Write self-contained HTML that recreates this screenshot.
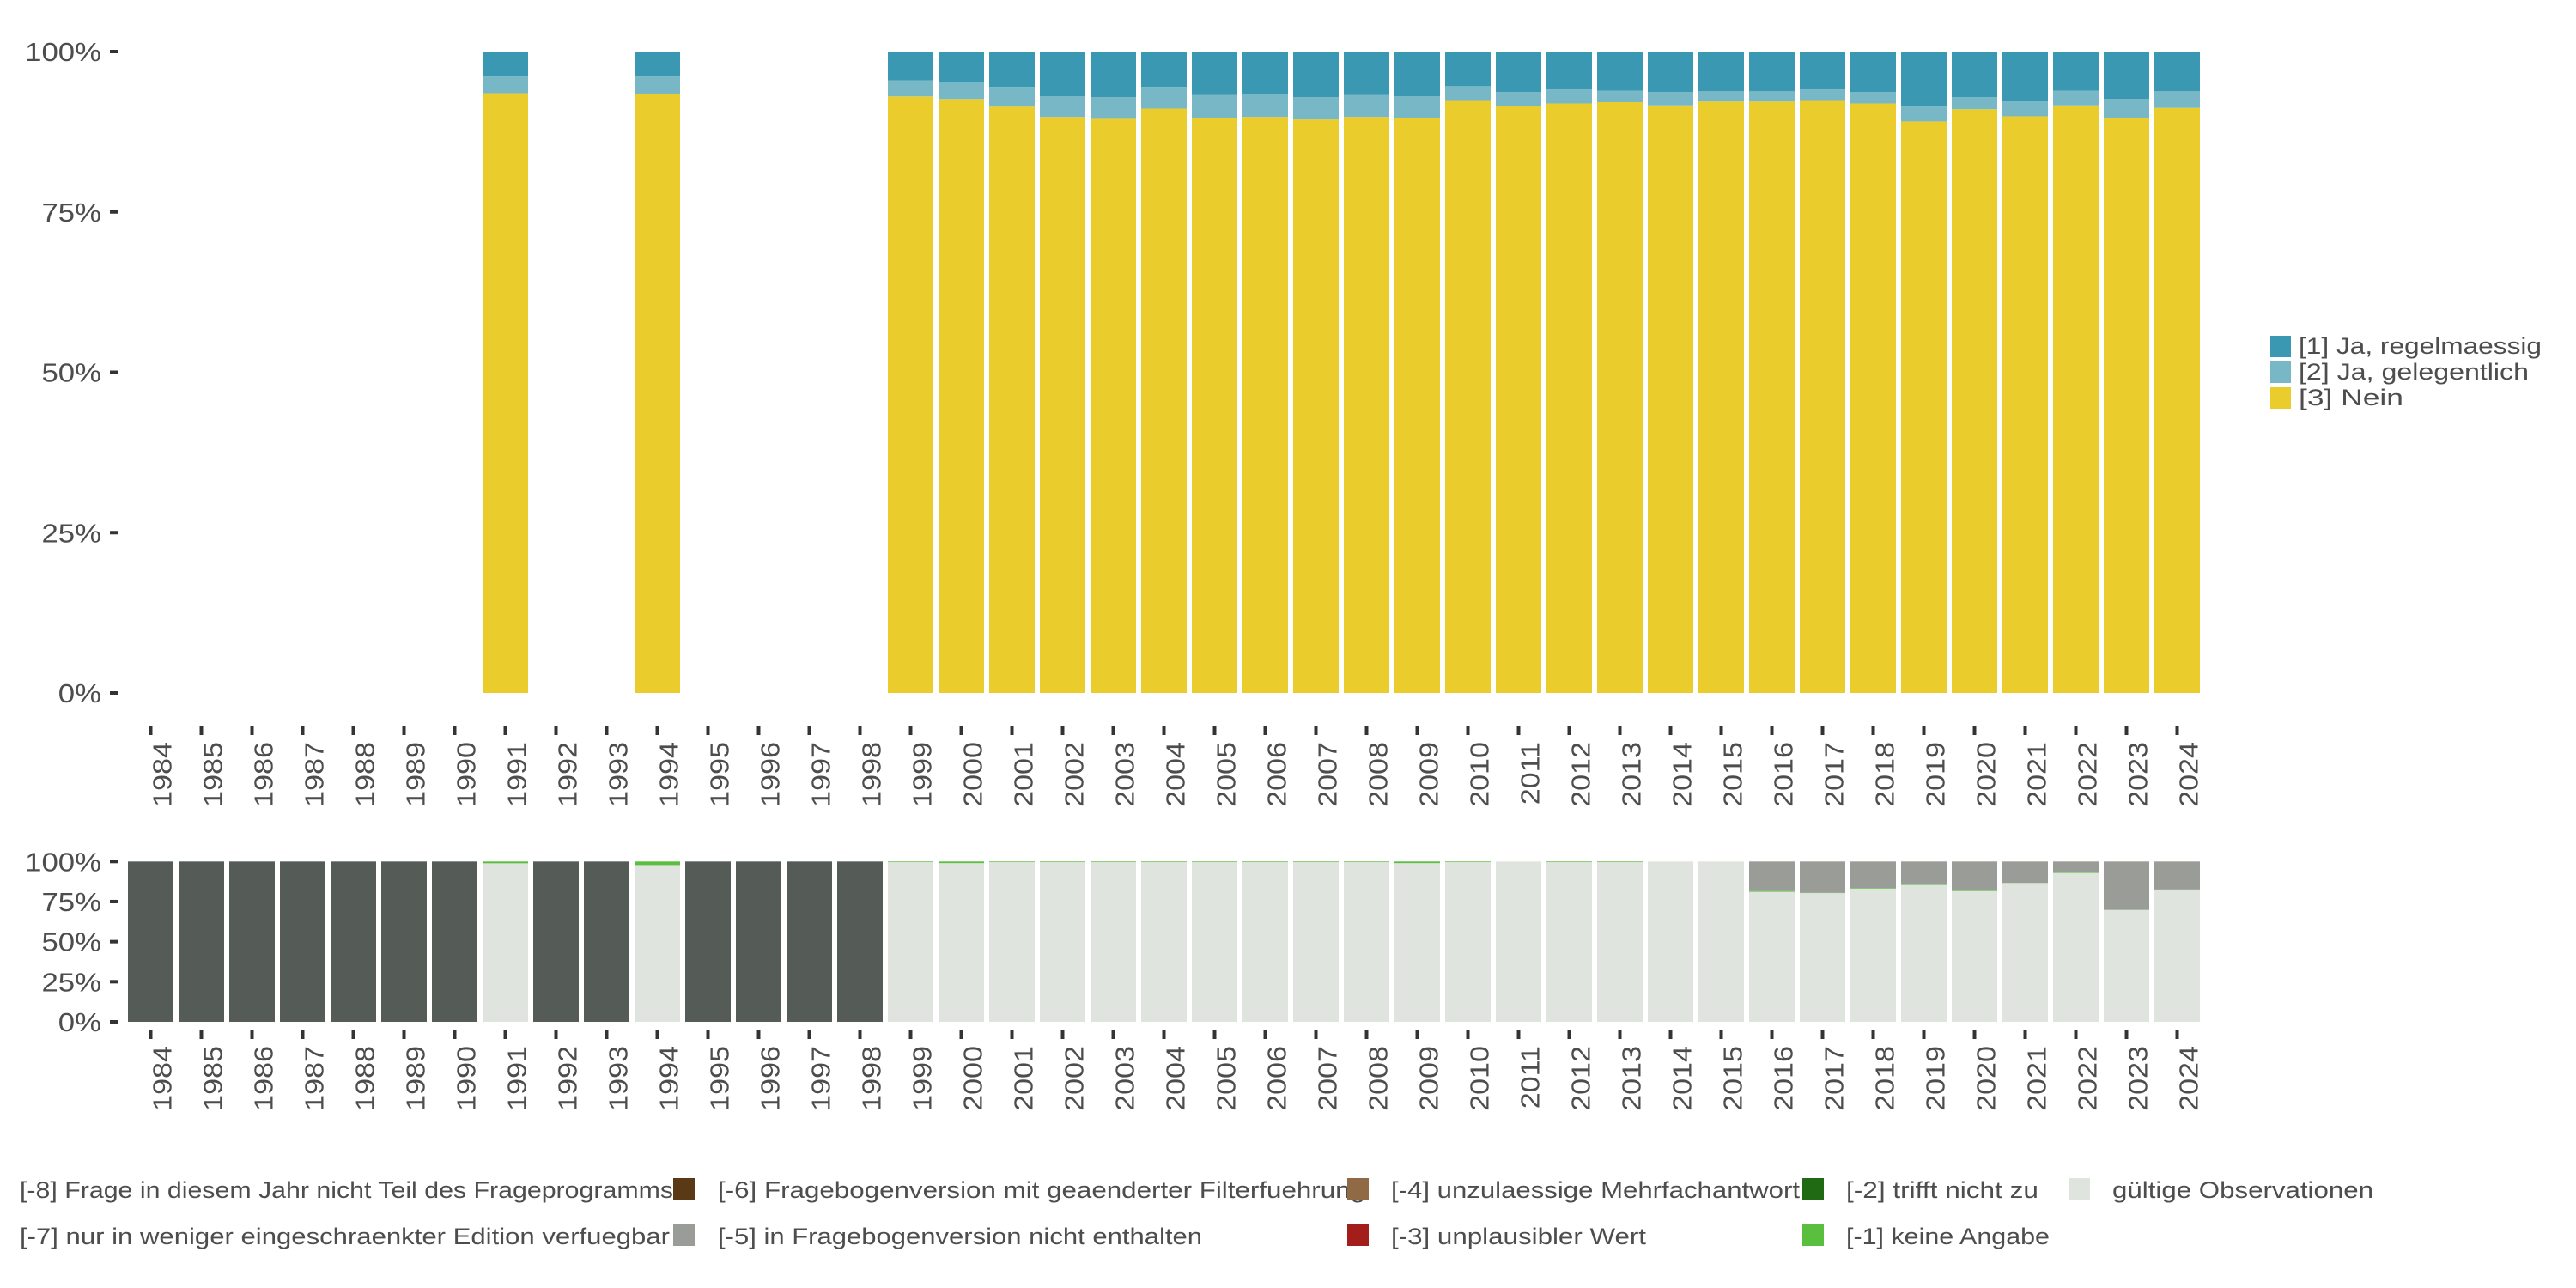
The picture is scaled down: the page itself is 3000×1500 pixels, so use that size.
<!DOCTYPE html>
<html><head><meta charset="utf-8"><style>
html,body{margin:0;padding:0;background:#fff;}
svg{display:block;}
text{font-family:"Liberation Sans",sans-serif;fill:#4d4d4d;}
</style></head><body>
<svg id="chart" width="3000" height="1500" viewBox="0 0 3000 1500" xmlns="http://www.w3.org/2000/svg">
<g id="top"></g>
<g id="bot"></g>
<g id="leg"></g>
</svg>
<script>
const years = [1984,1985,1986,1987,1988,1989,1990,1991,1992,1993,1994,1995,1996,1997,1998,1999,2000,2001,2002,2003,2004,2005,2006,2007,2008,2009,2010,2011,2012,2013,2014,2015,2016,2017,2018,2019,2020,2021,2022,2023,2024];
const nein = [null,null,null,null,null,null,null,0.935,null,null,0.934,null,null,null,null,0.930,0.926,0.914,0.898,0.895,0.911,0.896,0.898,0.894,0.898,0.896,0.923,0.915,0.919,0.921,0.916,0.922,0.922,0.923,0.919,0.891,0.910,0.899,0.916,0.896,0.912];
const jaGel = [null,null,null,null,null,null,null,0.026,null,null,0.027,null,null,null,null,0.025,0.026,0.031,0.032,0.034,0.034,0.036,0.036,0.035,0.034,0.034,0.023,0.022,0.022,0.018,0.021,0.016,0.016,0.018,0.018,0.023,0.019,0.023,0.023,0.030,0.026];
const jaRegel = [null,null,null,null,null,null,null,0.039,null,null,0.039,null,null,null,null,0.045,0.048,0.055,0.070,0.071,0.055,0.068,0.066,0.071,0.068,0.070,0.054,0.063,0.059,0.061,0.063,0.062,0.062,0.059,0.063,0.086,0.071,0.078,0.061,0.074,0.062];
const notInProgram = [1,1,1,1,1,1,1,0,1,1,0,1,1,1,1,0,0,0,0,0,0,0,0,0,0,0,0,0,0,0,0,0,0,0,0,0,0,0,0,0,0];
const notInVersion = [0,0,0,0,0,0,0,0,0,0,0,0,0,0,0,0,0,0,0,0,0,0,0,0,0,0,0,0,0,0,0,0,0.184,0.195,0.165,0.144,0.180,0.133,0.067,0.301,0.174];
const noAnswer = [0,0,0,0,0,0,0,0.011,0,0,0.022,0,0,0,0,0.004,0.010,0.004,0.004,0.004,0.004,0.004,0.004,0.004,0.004,0.010,0.004,0,0.004,0.004,0,0,0.005,0.002,0.004,0.003,0.004,0.001,0.004,0.001,0.005];
const pctTicks = [0,0.25,0.5,0.75,1];
const pctLabels = ["0%","25%","50%","75%","100%"];

const NS="http://www.w3.org/2000/svg";
function mk(parent,tag,attrs,txt){const e=document.createElementNS(NS,tag);for(const k in attrs)e.setAttribute(k,attrs[k]);if(txt!=null)e.textContent=txt;parent.appendChild(e);return e;}
function widen(t,f){const w=t.getComputedTextLength();t.setAttribute('textLength',(w*f).toFixed(1));t.setAttribute('lengthAdjust','spacingAndGlyphs');}
const step=59, x0=175.5, bw=53;
function xc(i){return x0+i*step;}

function panel(g, yTop, yBot, stacksFn, lblY){
  const ys=v=>yBot-(yBot-yTop)*v;
  pctTicks.forEach((t,k)=>{
    const tl=mk(g,'text',{x:118,y:ys(t)+11,'text-anchor':'end','font-size':31},pctLabels[k]);
    
    
    widen(tl,1.12);
    const tk=mk(g,'rect',{x:128,y:ys(t)-2,width:10,height:4,fill:'#333'});
    
    
  });
  years.forEach((yr,i)=>{
    let cum=0;
    stacksFn(i).forEach(s=>{
      if(!s.v) return;
      const r=mk(g,'rect',{x:xc(i)-bw/2,y:ys(cum+s.v),width:bw,height:ys(cum)-ys(cum+s.v),fill:s.c});
      
      
      cum+=s.v;
    });
    const tk=mk(g,'rect',{x:xc(i)-2,y:lblY-19,width:4,height:11,fill:'#333'});
    
    
    const t=mk(g,'text',{x:0,y:0,'text-anchor':'end','font-size':31,transform:`translate(${xc(i)+24},${lblY}) rotate(-90)`},String(yr));
    
    
    widen(t,1.1);
  });
}
panel(document.getElementById('top'),60,807,i=>[
  {n:'nein',v:nein[i],c:'#eacd2c'},
  {n:'ja-gelegentlich',v:jaGel[i],c:'#78b8c6'},
  {n:'ja-regelmaessig',v:jaRegel[i],c:'#3b98b2'}],864);
panel(document.getElementById('bot'),1003.3,1190,i=>{
  const valid=notInProgram[i]?0:1-notInVersion[i]-noAnswer[i];
  return [{n:'valid',v:valid,c:'#e0e4df'},{n:'keine-angabe',v:noAnswer[i],c:'#5abf3f'},{n:'nicht-enthalten',v:notInVersion[i],c:'#999c97'},{n:'nicht-teil',v:notInProgram[i],c:'#555b57'}];
},1218);

const leg=document.getElementById('leg');
const rl=[["[1] Ja, regelmaessig","#3b98b2",283],["[2] Ja, gelegentlich","#78b8c6",268],["[3] Nein","#eacd2c",122]];
rl.forEach((e,k)=>{
  const y=391+k*30;
  const r=mk(leg,'rect',{x:2644,y:y,width:24,height:25,fill:e[1]});
  
  
  const t=mk(leg,'text',{x:2677,y:y+21,'font-size':27,fill:'#222',textLength:e[2],lengthAdjust:'spacingAndGlyphs'},e[0]);
  
  
});
const bl=[
 [-60,1385,"#555b57",23,"[-8] Frage in diesem Jahr nicht Teil des Frageprogramms",761],
 [-60,1439,"#999c97",23,"[-7] nur in weniger eingeschraenkter Edition verfuegbar",757],
 [784,1385,"#5a3a16",836,"[-6] Fragebogenversion mit geaenderter Filterfuehrung",754],
 [784,1439,"#999c97",836,"[-5] in Fragebogenversion nicht enthalten",564],
 [1569,1385,"#8f6a45",1620,"[-4] unzulaessige Mehrfachantwort",476],
 [1569,1439,"#a31d1a",1620,"[-3] unplausibler Wert",297],
 [2099,1385,"#1f6a12",2150,"[-2] trifft nicht zu",224],
 [2099,1439,"#5abf3f",2150,"[-1] keine Angabe",237],
 [2409,1385,"#e0e4df",2460,"gültige Observationen",304]];
bl.forEach(e=>{
  const r=mk(leg,'rect',{x:e[0],y:e[1]-13,width:25,height:25,fill:e[2]});
  
  
  const t=mk(leg,'text',{x:e[3],y:e[1]+10,'font-size':27,fill:'#222',textLength:e[5],lengthAdjust:'spacingAndGlyphs'},e[4]);
  
  
});
</script>
</body></html>
